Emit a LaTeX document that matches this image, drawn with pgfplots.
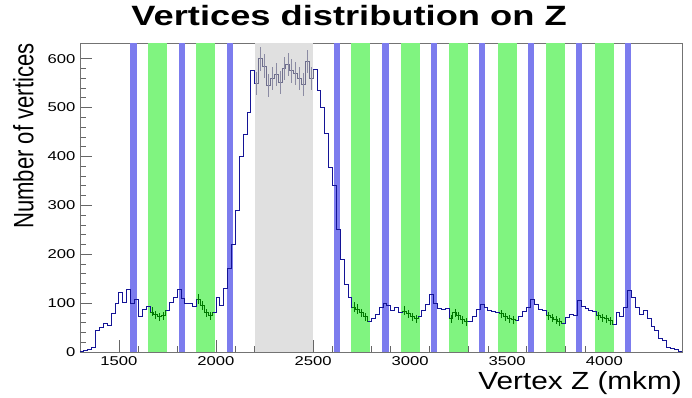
\documentclass[border=0pt]{standalone}
\usepackage{fontspec}
\setmainfont{Liberation Sans}
\newfontfamily\titlefont[FakeStretch=1.3]{Liberation Sans}
\newfontfamily\tickfont[FakeStretch=1.3]{Liberation Sans}
\newfontfamily\ylabfont[FakeStretch=0.79]{Liberation Sans}
\newfontfamily\xlabfont[FakeStretch=1.2]{Liberation Sans}
\usepackage{pgfplots}
\pgfplotsset{compat=1.18}
\usepackage{pgfplotstable}
\usetikzlibrary{calc}
\definecolor{bandblue}{RGB}{124,124,238}
\definecolor{bandgreen}{RGB}{128,244,128}
\definecolor{bandgray}{RGB}{224,224,224}
\definecolor{histblue}{RGB}{20,20,150}
\definecolor{histgreen}{RGB}{0,120,0}
\definecolor{histgray}{RGB}{110,110,140}
\pgfplotstableread{
z v
1300 1
1320 3
1340 5
1360 10
1380 45
1400 50
1420 58
1440 55
1460 78
1480 100
1500 122
1520 102
1540 128
1560 100
1580 108
1600 72
1620 88
1640 93
1660 82
1680 76
1700 72
1720 74
1740 86
1760 102
1780 112
1800 128
1820 110
1840 100
1860 100
1880 93
1900 108
1920 95
1940 80
1960 74
1980 82
2000 112
2020 96
2040 130
2060 170
2080 220
2100 290
2120 400
2140 445
2160 490
2180 575
2200 550
2220 600
2240 585
2260 545
2280 560
2300 568
2320 552
2340 580
2360 588
2380 575
2400 570
2420 560
2440 548
2460 594
2480 560
2500 577
2520 535
2540 500
2560 447
2580 378
2600 340
2620 250
2640 190
2660 138
2680 112
2700 92
2720 88
2740 80
2760 72
2780 62
2800 68
2820 76
2840 92
2860 100
2880 95
2900 85
2920 92
2940 82
2960 84
2980 78
3000 72
3020 68
3040 72
3060 85
3080 98
3100 118
3120 100
3140 90
3160 88
3180 90
3200 68
3220 80
3240 74
3260 66
3280 62
3300 62
3320 72
3340 88
3360 98
3380 92
3400 86
3420 84
3440 82
3460 78
3480 72
3500 68
3520 66
3540 64
3560 72
3580 84
3600 92
3620 108
3640 98
3660 88
3680 86
3700 74
3720 70
3740 66
3760 62
3780 58
3800 70
3820 76
3840 74
3860 105
3880 94
3900 90
3920 86
3940 84
3960 74
3980 70
4000 68
4020 64
4040 56
4060 80
4080 72
4100 92
4120 125
4140 112
4160 92
4180 76
4200 86
4220 68
4240 52
4260 44
4280 28
4300 24
4320 10
4340 8
4360 5
4380 2
4400 2
}\histdata
\begin{document}
\begin{tikzpicture}
\begin{axis}[
  scale only axis, width=602pt, height=309pt,
  xmin=1300, xmax=4400, ymin=0, ymax=632,
  axis line style={black!55, line width=0.8pt},
  tick align=inside, xtick pos=bottom, ytick pos=left,
  xtick={1500,2000,...,4000}, minor x tick num=4,
  ytick={0,100,...,600}, minor y tick num=4,
  major tick length=12pt, minor tick length=6pt,
  tick style={black!60, line width=0.6pt},
  /pgf/number format/assume math mode=true,
  /pgf/number format/1000 sep={},
  ticklabel style={font=\tickfont\fontsize{12.8}{13}\selectfont, text=black},
  xticklabel style={yshift=-1pt},
  yticklabel style={xshift=-1pt},
  title={\titlefont\bfseries Vertices distribution on Z},
  title style={at={(axis description cs:0.447,1)}, anchor=base, yshift=12pt, font=\fontsize{27.9}{30}\selectfont},
  xlabel={\xlabfont Vertex Z (mkm)},
  xlabel style={at={(axis description cs:1,0)}, anchor=base east, yshift=-37pt, inner sep=0pt, font=\fontsize{24.8}{26}\selectfont},
  ylabel={\ylabfont Number of vertices},
  ylabel style={at={(axis description cs:-0.1113,1)}, rotate=0, anchor=north east, inner sep=0pt, font=\fontsize{28}{30}\selectfont},
  clip=true,
]
% bands
\addplot[fill=bandgray, draw=none] coordinates {(2200,632) (2500,632)} \closedcycle;
\addplot[fill=bandblue, draw=none] coordinates {(1560,632) (1592,632)} \closedcycle;
\addplot[fill=bandblue, draw=none] coordinates {(1810,632) (1842,632)} \closedcycle;
\addplot[fill=bandblue, draw=none] coordinates {(2058,632) (2090,632)} \closedcycle;
\addplot[fill=bandblue, draw=none] coordinates {(2608,632) (2640,632)} \closedcycle;
\addplot[fill=bandblue, draw=none] coordinates {(2857,632) (2889,632)} \closedcycle;
\addplot[fill=bandblue, draw=none] coordinates {(3106,632) (3138,632)} \closedcycle;
\addplot[fill=bandblue, draw=none] coordinates {(3355,632) (3387,632)} \closedcycle;
\addplot[fill=bandblue, draw=none] coordinates {(3606,632) (3638,632)} \closedcycle;
\addplot[fill=bandblue, draw=none] coordinates {(3855,632) (3887,632)} \closedcycle;
\addplot[fill=bandblue, draw=none] coordinates {(4105,632) (4137,632)} \closedcycle;
\addplot[fill=bandgreen, draw=none] coordinates {(1648,632) (1746,632)} \closedcycle;
\addplot[fill=bandgreen, draw=none] coordinates {(1899,632) (1997,632)} \closedcycle;
\addplot[fill=bandgreen, draw=none] coordinates {(2696,632) (2794,632)} \closedcycle;
\addplot[fill=bandgreen, draw=none] coordinates {(2951,632) (3049,632)} \closedcycle;
\addplot[fill=bandgreen, draw=none] coordinates {(3200,632) (3300,632)} \closedcycle;
\addplot[fill=bandgreen, draw=none] coordinates {(3451,632) (3549,632)} \closedcycle;
\addplot[fill=bandgreen, draw=none] coordinates {(3700,632) (3799,632)} \closedcycle;
\addplot[fill=bandgreen, draw=none] coordinates {(3950,632) (4048,632)} \closedcycle;
% histogram
\addplot[histblue, line width=0.8pt, const plot mark left, mark=none] table[x=z, y=v] {\histdata};
% green overlays
\foreach \lo/\hi in {1660/1740, 1900/1980, 2700/2780, 2960/3040, 3200/3300, 3460/3540, 3700/3780, 3960/4040}{
  \edef\tmp{\noexpand\addplot[histgreen, line width=0.8pt, const plot mark left, mark=none, restrict x to domain=\lo:\hi] table[x=z, y=v] {\noexpand\histdata};}
  \tmp
  \edef\tmp{\noexpand\addplot[draw=none, mark=none, restrict x to domain=\lo:\hi, error bars/.cd, y dir=both, y explicit, error mark=none, error bar style={histgreen, line width=0.5pt}] table[x expr=\noexpand\thisrow{z}+10, y=v, y error expr={sqrt(\noexpand\thisrow{v})}] {\noexpand\histdata};}
  \tmp
}
% gray overlay
\addplot[histgray, line width=0.8pt, const plot mark left, mark=none, restrict x to domain=2200:2500] table[x=z, y=v] {\histdata};
\addplot[draw=none, mark=none, restrict x to domain=2200:2490, error bars/.cd, y dir=both, y explicit, error mark=none, error bar style={histgray!80, line width=0.45pt}] table[x expr=\thisrow{z}+10, y=v, y error expr={sqrt(\thisrow{v})}] {\histdata};
\end{axis}
\pgfresetboundingbox
\path[use as bounding box] ($(current axis.south west)+(-80pt,-45pt)$) rectangle ($(current axis.north east)+(10pt,43pt)$);
\end{tikzpicture}
\end{document}
